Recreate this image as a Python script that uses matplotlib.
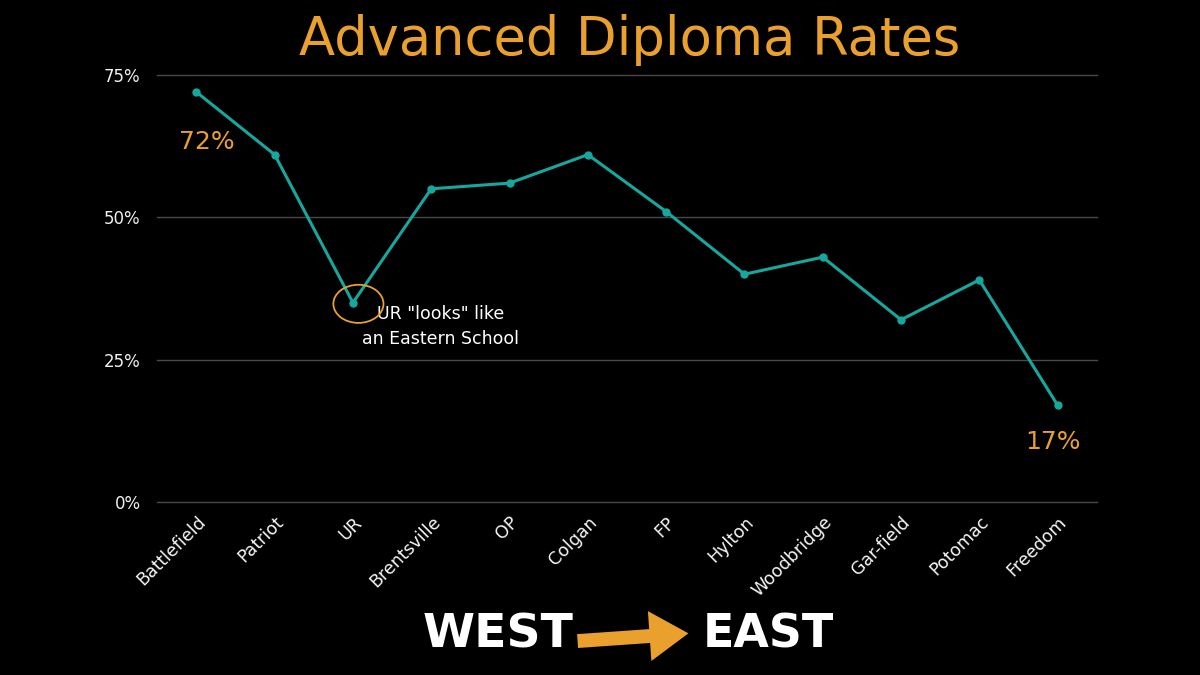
import matplotlib
matplotlib.use("Agg")
import matplotlib.pyplot as plt
from matplotlib.patches import Ellipse, FancyArrowPatch

schools = ["Battlefield", "Patriot", "UR", "Brentsville", "OP", "Colgan", "FP",
           "Hylton", "Woodbridge", "Gar-field", "Potomac", "Freedom"]
rates = [72, 61, 35, 55, 56, 61, 51, 40, 43, 32, 39, 17]
yticks = [0, 25, 50, 75]
ytick_labels = ["0%", "25%", "50%", "75%"]

ORANGE = "#E9A02D"
TEAL = "#16A89E"
BG = "#000000"

plt.rcParams['font.family'] = ['DejaVu Sans']

fig = plt.figure(figsize=(12, 6.75), dpi=100, facecolor=BG)
ax = fig.add_axes([0.131, 0.2563, 0.783, 0.6327], facecolor=BG)

x = list(range(len(schools)))
ax.plot(x, rates, color=TEAL, lw=2.2, marker='o', ms=5, zorder=3)

ax.set_xlim(-0.5, len(schools) - 0.5)
ax.set_ylim(0, 75)
ax.set_yticks(yticks)
ax.set_yticklabels(ytick_labels, color="#f0f0f0", fontsize=12)
ax.set_xticks(x)
ax.set_xticklabels(schools, rotation=45, ha='right', rotation_mode='anchor',
                   color="#f5f5f5", fontsize=12.5)
ax.tick_params(axis='y', length=0, pad=12)
ax.tick_params(axis='x', length=0, pad=8)
for yv in yticks:
    ax.axhline(yv, color="#4a4a4a", lw=1, clip_on=False, zorder=1)
for s in ax.spines.values():
    s.set_visible(False)

# annotations
ax.text(0.14, 63.2, "72%", color=ORANGE, fontsize=18,
        ha='center', va='center')
ax.text(10.94, 10.5, "17%", color=ORANGE, fontsize=18,
        ha='center', va='center')
ax.add_patch(Ellipse((2.07, 34.8), 0.64, 6.7, angle=0, fill=False,
                     edgecolor=ORANGE, lw=1.3, zorder=4))
ax.text(3.12, 30.8, "UR \"looks\" like\nan Eastern School", color="white",
        fontsize=12.5, ha='center', va='center', linespacing=1.5,
        multialignment='center')

fig.text(0.525, 0.94, "Advanced Diploma Rates", color=ORANGE, fontsize=38,
         ha='center', va='center')

fig.text(0.352, 0.06, "WEST", color="white", fontsize=34, fontweight='bold',
         ha='left', va='center')
fig.text(0.586, 0.06, "EAST", color="white", fontsize=33, fontweight='bold',
         ha='left', va='center')
arr = FancyArrowPatch((0.479, 0.05), (0.576, 0.062), transform=fig.transFigure,
                      arrowstyle='simple,head_length=2.8,head_width=3.6,tail_width=1.0',
                      color=ORANGE, lw=0, mutation_scale=10)
fig.patches.append(arr)

fig.savefig("out.png", dpi=100, facecolor=BG)
